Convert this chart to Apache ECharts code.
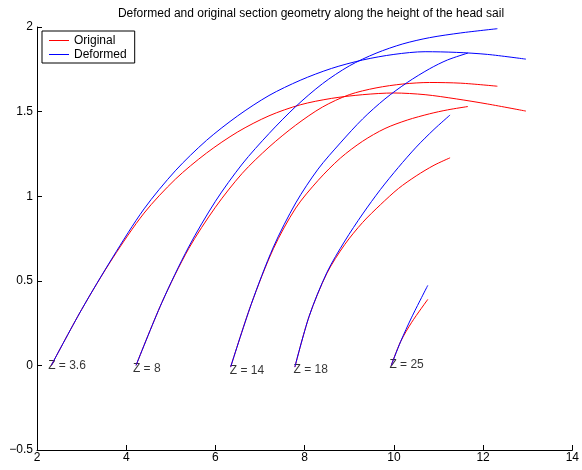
<!DOCTYPE html>
<html>
<head>
<meta charset="utf-8">
<script src="https://cdn.jsdelivr.net/npm/echarts@6/dist/echarts.min.js"></script>
<style>html,body{margin:0;padding:0;background:#fff}#c{width:582px;height:470px}</style>
</head>
<body>
<div id="c"></div>
<script>
// Section curves, [x, y] pairs
const orig36 = [[2.32,0],[3.0,0.33],[3.7,0.635],[4.4,0.9],[5.1,1.1],[5.8,1.255],[6.5,1.38],[7.2,1.475],[7.9,1.54],[8.6,1.578],[9.3,1.6],[10.0,1.61],[10.7,1.6],[11.4,1.575],[12.1,1.545],[12.96,1.503]];
const def36  = [[2.32,0],[3.0,0.33],[3.7,0.64],[4.4,0.925],[5.1,1.15],[5.8,1.33],[6.5,1.475],[7.2,1.595],[7.9,1.685],[8.6,1.755],[9.3,1.805],[10.0,1.838],[10.7,1.854],[11.4,1.85],[12.1,1.838],[12.96,1.81]];
const orig8  = [[4.22,0],[4.8,0.372],[5.4,0.69],[6.0,0.935],[6.6,1.135],[7.2,1.29],[7.8,1.42],[8.4,1.527],[9.0,1.6],[9.6,1.64],[10.2,1.663],[10.8,1.672],[11.5,1.668],[12.32,1.65]];
const def8   = [[4.22,0],[4.8,0.372],[5.4,0.70],[6.0,0.97],[6.6,1.19],[7.2,1.37],[7.8,1.53],[8.4,1.665],[9.0,1.77],[9.6,1.845],[10.2,1.9],[10.8,1.937],[11.5,1.965],[12.32,1.99]];
const orig14 = [[6.34,-0.01],[6.8,0.36],[7.3,0.69],[7.8,0.93],[8.3,1.093],[8.8,1.225],[9.3,1.325],[9.8,1.4],[10.3,1.45],[10.8,1.487],[11.2,1.51],[11.66,1.53]];
const def14  = [[6.34,-0.01],[6.8,0.36],[7.3,0.70],[7.8,0.96],[8.3,1.16],[8.8,1.315],[9.3,1.457],[9.8,1.575],[10.3,1.672],[10.8,1.753],[11.2,1.805],[11.66,1.846]];
const orig18 = [[7.78,-0.01],[8.1,0.29],[8.5,0.545],[8.9,0.715],[9.3,0.845],[9.7,0.95],[10.1,1.045],[10.5,1.12],[10.9,1.183],[11.26,1.227]];
const def18  = [[7.78,-0.01],[8.1,0.29],[8.5,0.55],[8.9,0.735],[9.3,0.895],[9.7,1.04],[10.1,1.17],[10.5,1.29],[10.9,1.395],[11.26,1.48]];
const orig25 = [[9.94,0],[10.15,0.14],[10.4,0.255],[10.76,0.39]];
const def25  = [[9.94,0],[10.15,0.14],[10.4,0.285],[10.76,0.473]];

// Section labels
const labelText = ['Z = 3.6','Z = 8','Z = 14','Z = 18','Z = 25'];
const labelX = [2.25, 4.15, 6.32, 7.75, 9.9];
const labelY = [0.0, -0.02, -0.03, -0.025, 0.005];

const xTicks = [2,4,6,8,10,12,14];
const yTicks = [-0.5,0,0.5,1,1.5,2];

const FONT = 'Liberation Sans, Arial, Helvetica, sans-serif';
const origSets = [orig36, orig8, orig14, orig18, orig25];
const defSets = [def36, def8, def14, def18, def25];

function lineSeries(name, color, data){
  return {name, type:'line', data, symbol:'none', showSymbol:false, smooth:0.3,
    lineStyle:{color, width:1}, itemStyle:{color}, silent:true, animation:false};
}
const series = [];
origSets.forEach(d=>series.push(lineSeries('Original','#ff0000',d)));
defSets.forEach(d=>series.push(lineSeries('Deformed','#0000ff',d)));
series.push({type:'scatter', symbolSize:0, silent:true, animation:false,
  data: labelText.map((t,i)=>({name:t, value:[labelX[i], labelY[i]]})),
  label:{show:true, position:'right', distance:0, formatter:p=>p.name, color:'#000', fontSize:12, fontFamily:FONT, align:'left', verticalAlign:'middle'}});

const chart = echarts.init(document.getElementById('c'), null, {renderer:'canvas'});
chart.setOption({
  animation:false,
  backgroundColor:'#fff',
  title:{text:'Deformed and original section geometry along the height of the head sail', left:306, top:3, textAlign:'center',
    textStyle:{fontSize:12, fontWeight:'normal', color:'#000', fontFamily:FONT}},
  legend:{data:['Original','Deformed'], orient:'vertical', left:42, top:31, padding:[3,8,2,7], itemGap:1,
    icon:'rect', itemWidth:20, itemHeight:1, backgroundColor:'#fff', borderColor:'#000', borderWidth:1, borderRadius:0,
    textStyle:{fontSize:12, color:'#000', fontFamily:FONT, lineHeight:13}, selectedMode:false},
  grid:{left:37, right:9, top:27, bottom:20, containLabel:false},
  xAxis:{type:'value', min:xTicks[0], max:xTicks[xTicks.length-1], interval:2,
    axisLine:{show:true, onZero:false, lineStyle:{color:'#000', width:1}},
    axisTick:{show:true, inside:true, length:5, lineStyle:{color:'#000'}},
    splitLine:{show:false},
    axisLabel:{color:'#000', fontSize:12, fontFamily:FONT, margin:2, showMinLabel:true, showMaxLabel:true}},
  yAxis:{type:'value', min:yTicks[0], max:yTicks[yTicks.length-1], interval:0.5,
    axisLine:{show:true, onZero:false, lineStyle:{color:'#000', width:1}},
    axisTick:{show:true, inside:true, length:5, lineStyle:{color:'#000'}},
    splitLine:{show:false},
    axisLabel:{color:'#000', fontSize:12, fontFamily:FONT, margin:4, formatter:v=>String(v).replace('-','\u2212')}},
  series
});
</script>
</body>
</html>
